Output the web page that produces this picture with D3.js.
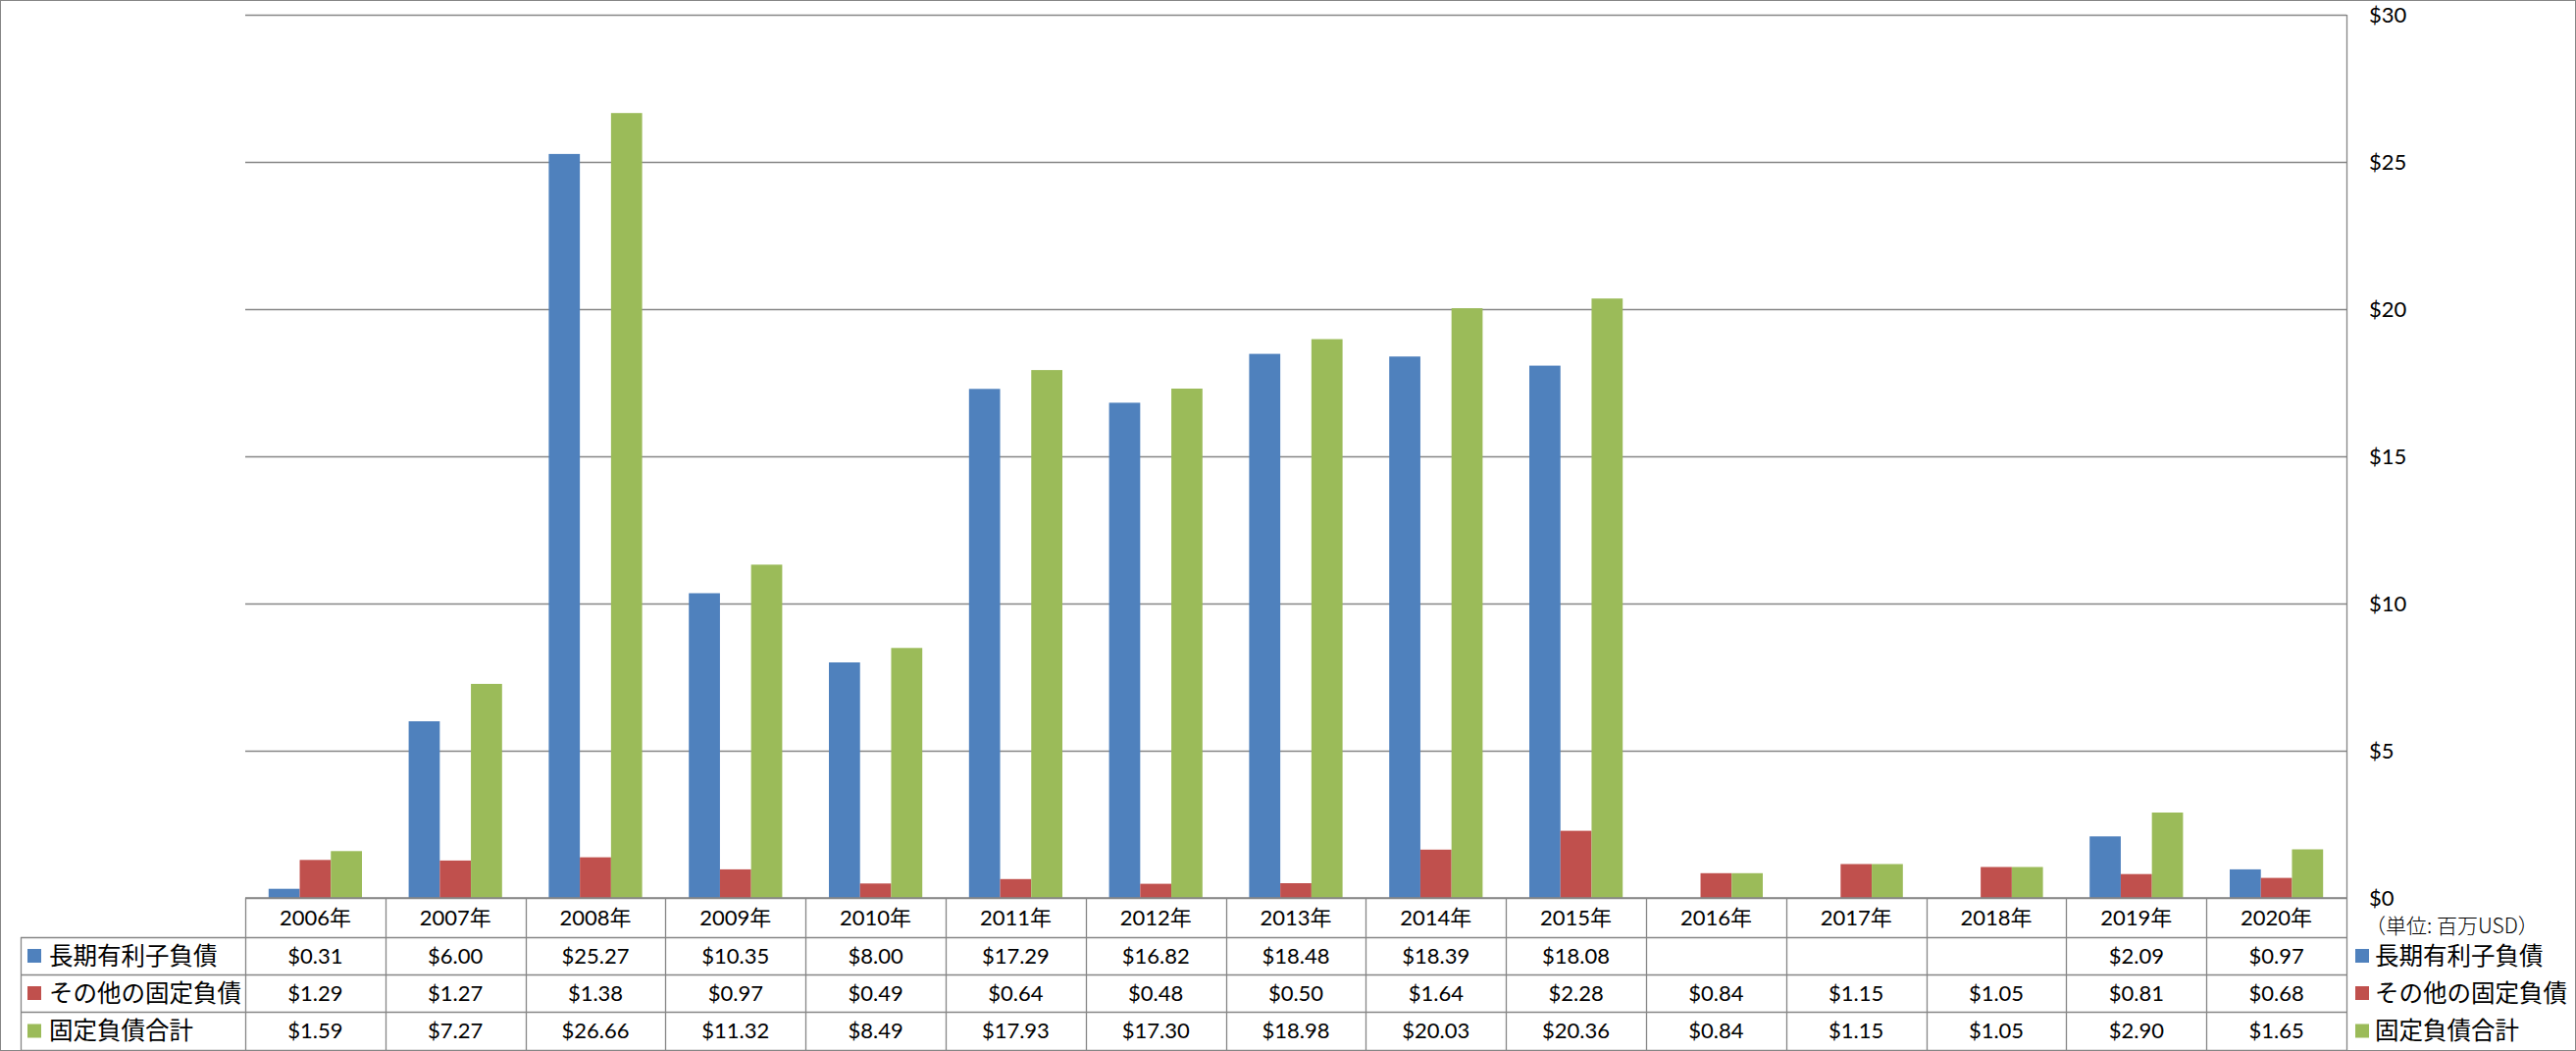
<!DOCTYPE html>
<html>
<head>
<meta charset="utf-8">
<script src="https://cdn.jsdelivr.net/npm/d3@7"></script>
<style>
  html, body { margin: 0; padding: 0; background: #fff; }
  svg { display: block; }
</style>
</head>
<body>
<svg id="chart" width="2626" height="1071"></svg>
<script>
// ---- data ----
const categories = ["2006年","2007年","2008年","2009年","2010年","2011年","2012年","2013年","2014年","2015年","2016年","2017年","2018年","2019年","2020年"];
const seriesNames = ["長期有利子負債","その他の固定負債","固定負債合計"];
const longTermDebt = [0.31, 6.00, 25.27, 10.35, 8.00, 17.29, 16.82, 18.48, 18.39, 18.08, null, null, null, 2.09, 0.97];
const otherFixed   = [1.29, 1.27, 1.38, 0.97, 0.49, 0.64, 0.48, 0.50, 1.64, 2.28, 0.84, 1.15, 1.05, 0.81, 0.68];
const totalFixed   = [1.59, 7.27, 26.66, 11.32, 8.49, 17.93, 17.30, 18.98, 20.03, 20.36, 0.84, 1.15, 1.05, 2.90, 1.65];
const yTicks = [0, 5, 10, 15, 20, 25, 30];
const unitLabel = "（単位: 百万USD）";
const colors = ["#4F81BD", "#C0504D", "#9BBB59"];

const seriesValues = [longTermDebt, otherFixed, totalFixed];

// ---- layout ----
const W = 2626, H = 1071;
const plotL = 250, plotR = 2392, plotT = 15, plotB = 915;
const rowH = [915, 955, 993, 1031, 1070];
const legendL = 21;
const gridColor = "#868686";
const numFont = "Lato, 'Noto Sans CJK JP', sans-serif";
const jpFont = "'Noto Sans CJK JP', sans-serif";

const svg = d3.select("#chart");

const x0 = d3.scaleBand().domain(categories).range([plotL, plotR]).paddingInner(0).paddingOuter(0);
const bw = x0.bandwidth();
const gapW = bw / 4.5 * 1.5;
const x1 = d3.scaleBand().domain(seriesNames).range([gapW / 2, bw - gapW / 2]).padding(0);
const y = d3.scaleLinear().domain([0, 30]).range([plotB, plotT]);

// outer border
svg.append("rect").attr("x", 0.5).attr("y", 0.5).attr("width", W - 1).attr("height", H - 1)
  .attr("fill", "#fff").attr("stroke", gridColor).attr("stroke-width", 1);

// gridlines
const yAxis = d3.axisRight(y).tickValues(yTicks).tickSize(-(plotR - plotL)).tickFormat(d => "$" + d);
const gAxis = svg.append("g").attr("transform", `translate(${plotR},0)`).call(yAxis);
gAxis.select(".domain").remove();
gAxis.selectAll(".tick line").attr("stroke", gridColor).attr("stroke-width", 1.3);
gAxis.selectAll(".tick text")
  .attr("x", 23).attr("dy", "0.35em")
  .attr("font-family", numFont).attr("font-size", 22).attr("fill", "#000")
  .attr("text-anchor", "start");

// bars
const gBars = svg.append("g");
categories.forEach((c, i) => {
  seriesNames.forEach((s, j) => {
    const v = seriesValues[j][i];
    if (v == null) return;
    gBars.append("rect")
      .attr("x", x0(c) + x1(s))
      .attr("y", y(v))
      .attr("width", x1.bandwidth())
      .attr("height", y(0) - y(v))
      .attr("fill", colors[j]);
  });
});

// right axis line (extends through table)
svg.append("line").attr("x1", plotR + 0.5).attr("x2", plotR + 0.5).attr("y1", plotT).attr("y2", rowH[4])
  .attr("stroke", gridColor).attr("stroke-width", 1.3);

// ---- data table ----
const gT = svg.append("g").attr("stroke", gridColor).attr("stroke-width", 1.3);
gT.append("line").attr("x1", plotL).attr("x2", plotR).attr("y1", rowH[0]).attr("y2", rowH[0]);
for (let r = 1; r < rowH.length; r++) {
  gT.append("line").attr("x1", legendL).attr("x2", plotR).attr("y1", rowH[r] + 0.5).attr("y2", rowH[r] + 0.5);
}
gT.append("line").attr("x1", legendL + 0.5).attr("x2", legendL + 0.5).attr("y1", rowH[1]).attr("y2", rowH[4]);
categories.forEach(c => {
  const xx = Math.round(x0(c)) + 0.5;
  gT.append("line").attr("x1", xx).attr("x2", xx).attr("y1", rowH[0]).attr("y2", rowH[4]);
});

// header labels
svg.append("g").selectAll("text").data(categories).join("text")
  .attr("x", d => x0(d) + bw / 2)
  .attr("y", (rowH[0] + rowH[1]) / 2)
  .attr("dy", "0.36em")
  .attr("text-anchor", "middle")
  .attr("font-family", numFont).attr("font-size", 22).attr("fill", "#000")
  .text(d => d);

// row labels + values
seriesNames.forEach((s, j) => {
  const cy = (rowH[j + 1] + rowH[j + 2]) / 2;
  svg.append("rect").attr("x", 28).attr("y", cy - 7).attr("width", 14).attr("height", 14).attr("fill", colors[j]);
  svg.append("text").attr("x", 50).attr("y", cy).attr("dy", "0.36em")
    .attr("font-family", jpFont).attr("font-size", 24.5).attr("fill", "#000").text(s);
  categories.forEach((c, i) => {
    const v = seriesValues[j][i];
    if (v == null) return;
    svg.append("text")
      .attr("x", x0(c) + bw / 2).attr("y", cy).attr("dy", "0.36em")
      .attr("text-anchor", "middle")
      .attr("font-family", numFont).attr("font-size", 22).attr("fill", "#000")
      .text("$" + v.toFixed(2));
  });
  // right legend
  svg.append("rect").attr("x", 2401).attr("y", cy - 7).attr("width", 14).attr("height", 14).attr("fill", colors[j]);
  svg.append("text").attr("x", 2421).attr("y", cy).attr("dy", "0.36em")
    .attr("font-family", jpFont).attr("font-size", 24.5).attr("fill", "#000").text(s);
});

// unit label
svg.append("text").attr("x", 2411).attr("y", 943).attr("dy", "0.36em")
  .attr("font-family", jpFont).attr("font-size", 21).attr("font-weight", 300).attr("fill", "#000")
  .text(unitLabel);
</script>
</body>
</html>
